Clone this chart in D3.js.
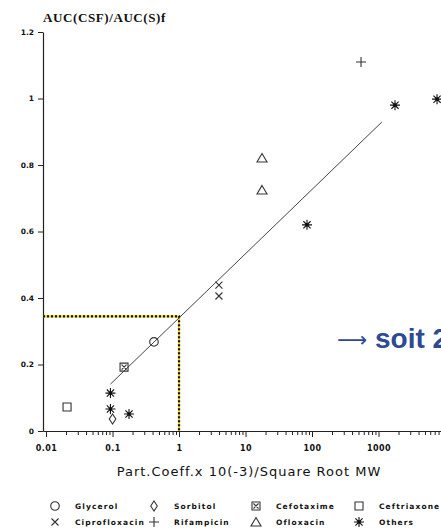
<!DOCTYPE html>
<html>
<head>
<meta charset="utf-8">
<script src="https://cdn.jsdelivr.net/npm/d3@7"></script>
<style>
  body { margin: 0; background: #fff; }
  svg { display: block; }
</style>
</head>
<body>
<div id="chart"></div>
<script>
// values
const groups = ["Glycerol", "Sorbitol", "Cefotaxime", "Ceftriaxone", "Ciprofloxacin", "Rifampicin", "Ofloxacin", "Others"];
const markers = ["circle", "diamond", "boxX", "square", "times", "plus", "triangle", "asterisk"];

const pointGroup = ["Glycerol", "Sorbitol", "Cefotaxime", "Ceftriaxone", "Ciprofloxacin", "Ciprofloxacin", "Rifampicin",
    "Ofloxacin", "Ofloxacin", "Others", "Others", "Others", "Others", "Others", "Others"];
const pointX = [0.42, 0.1, 0.149, 0.0207, 3.98, 3.98, 546, 17.7, 17.7, 0.093, 0.093, 0.177, 84, 1770, 7590];
const pointY = [0.268, 0.036, 0.192, 0.072, 0.439, 0.406, 1.11, 0.821, 0.725, 0.114, 0.066, 0.051, 0.62, 0.98, 0.998];

const fitX = [0.093, 1120];
const fitY = [0.141, 0.929];

const refX = 1;
const refY = 0.345;

const yTicks = [0, 0.2, 0.4, 0.6, 0.8, 1, 1.2];
const xMajor = [0.01, 0.1, 1, 10, 100, 1000];
const xLabels = ["0.01", "0.1", "1", "10", "100", "1000"];

const W = 441, H = 530;

const svg = d3.select("#chart").append("svg")
    .attr("width", W).attr("height", H)
    .style("background", "#fff");

const x = d3.scaleLog().domain([0.009, 10000]).range([43, 445]);
const y = d3.scaleLinear().domain([0, 1.2]).range([431, 32]);

// y axis
const yAxis = d3.axisLeft(y).tickValues(yTicks).tickSize(5).tickSizeOuter(0)
    .tickFormat(d => (d === 0 || d === 1) ? String(d) : d.toFixed(1));
const yg = svg.append("g").attr("transform", "translate(43,0)").call(yAxis);
yg.select(".domain").attr("stroke", "#222").attr("stroke-width", 1.2);
yg.selectAll(".tick line").attr("stroke", "#222");
yg.selectAll(".tick text").attr("font-family", "DejaVu Sans").attr("font-weight", "bold")
    .attr("font-size", 7.5).attr("fill", "#111").attr("x", -9);

// x axis with minor ticks
let xTickVals = [];
for (let e = -2; e <= 3; e++) {
    for (let m = 1; m <= 9; m++) xTickVals.push(+(m * Math.pow(10, e)).toPrecision(3));
}
const isMajor = d => xMajor.some(v => Math.abs(v - d) / v < 1e-6);
const xAxis = d3.axisBottom(x).tickValues(xTickVals).tickSize(4).tickSizeOuter(0)
    .tickFormat(d => { let i = xMajor.findIndex(v => Math.abs(v - d) / v < 1e-6); return i >= 0 ? xLabels[i] : ""; });
const xg = svg.append("g").attr("transform", "translate(0," + y(0) + ")").call(xAxis);
xg.select(".domain").attr("stroke", "#222").attr("stroke-width", 1.2);
xg.selectAll(".tick line").attr("stroke", "#222").attr("y2", d => isMajor(d) ? 6 : 4);
xg.selectAll(".tick text").attr("font-family", "DejaVu Sans").attr("font-weight", "bold")
    .attr("font-size", 8).attr("letter-spacing", 0.4).attr("fill", "#111").attr("y", 14);

// titles
svg.append("text").attr("x", 43).attr("y", 22)
    .attr("font-family", "Liberation Serif").attr("font-weight", "bold").attr("font-size", 13)
    .attr("letter-spacing", 0.6).attr("fill", "#111")
    .text("AUC(CSF)/AUC(S)f");

svg.append("text").attr("x", 249).attr("y", 476).attr("text-anchor", "middle")
    .attr("font-family", "DejaVu Sans").attr("font-size", 13)
    .attr("letter-spacing", 1).attr("fill", "#111")
    .text("Part.Coeff.x 10(-3)/Square Root MW");

// dotted reference box
const refPath = "M" + x.range()[0] + "," + y(refY) + "H" + x(refX) + "V" + y(0);
svg.append("path").attr("d", refPath).attr("fill", "none")
    .attr("stroke", "#f2d21b").attr("stroke-width", 2.2);
svg.append("path").attr("d", refPath).attr("fill", "none")
    .attr("stroke", "#111").attr("stroke-width", 2.2).attr("stroke-dasharray", "2,2");

// regression line
svg.append("path").datum(fitX.map((d, i) => [d, fitY[i]]))
    .attr("d", d3.line().x(d => x(d[0])).y(d => y(d[1])))
    .attr("fill", "none").attr("stroke", "#444").attr("stroke-width", 1);

// marker shapes
function markerPath(type) {
    switch (type) {
        case "diamond": return "M0,-5L3.3,0L0,5L-3.3,0Z";
        case "boxX": return "M-4,-4H4V4H-4ZM-2.5,-2.5L2.5,2.5M-2.5,2.5L2.5,-2.5";
        case "square": return "M-4,-4H4V4H-4Z";
        case "times": return "M-3.5,-3.5L3.5,3.5M-3.5,3.5L3.5,-3.5";
        case "plus": return "M-5,0H5M0,-5V5";
        case "triangle": return "M0,-4.5L5,4L-5,4Z";
        case "asterisk": return "M-5,0H5M0,-5V5M-3.6,-3.6L3.6,3.6M-3.6,3.6L3.6,-3.6";
    }
    return "";
}
function drawMarker(g, type) {
    if (type === "circle") {
        g.append("circle").attr("r", 4.3).attr("fill", "none").attr("stroke", "#333").attr("stroke-width", 1.1);
    } else {
        g.append("path").attr("d", markerPath(type)).attr("fill", "none")
            .attr("stroke", type === "asterisk" ? "#111" : "#333")
            .attr("stroke-width", 1.1);
        if (type === "asterisk") g.append("circle").attr("r", 1.8).attr("fill", "#111");
    }
}

const pts = svg.append("g");
pointX.forEach((d, i) => {
    let g = pts.append("g").attr("transform", "translate(" + x(d) + "," + y(pointY[i]) + ")");
    drawMarker(g, markers[groups.indexOf(pointGroup[i])]);
});

// legend, two rows of four
const legX = [55, 154, 256, 359];
const legY = [506, 522];
groups.forEach((gname, i) => {
    let col = i % 4, row = Math.floor(i / 4);
    let g = svg.append("g").attr("transform", "translate(" + legX[col] + "," + legY[row] + ")");
    drawMarker(g, markers[i]);
    g.append("text").attr("x", 20).attr("y", 3)
        .attr("font-family", "DejaVu Sans").attr("font-weight", "bold").attr("font-size", 7.5)
        .attr("letter-spacing", 1.1).attr("fill", "#111").text(gname);
});

// blue annotation (runs off the right edge, as in the original)
svg.append("text").attr("x", 337).attr("y", 348)
    .attr("fill", "#2d4a93")
    .call(t => {
        t.append("tspan").attr("font-family", "DejaVu Sans").attr("font-size", 21)
            .attr("font-weight", "normal").attr("dy", -1).text("⟶");
        t.append("tspan").attr("font-family", "Liberation Sans").attr("font-size", 28)
            .attr("font-weight", "bold").attr("x", 375).attr("dy", 1).text("soit 2");
    });
</script>
</body>
</html>
